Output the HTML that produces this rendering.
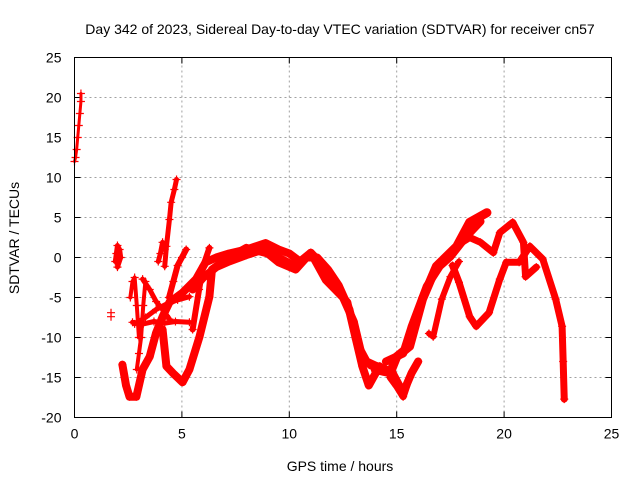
<!DOCTYPE html>
<html><head><meta charset="utf-8"><style>
body{margin:0;background:#fff;}
svg{display:block;font-family:"Liberation Sans",sans-serif;}
</style></head><body>
<svg id="chart" width="640" height="480">
<rect width="640" height="480" fill="#fff"/>
<text x="340" y="34" font-size="14" text-anchor="middle">Day 342 of 2023, Sidereal Day-to-day VTEC variation (SDTVAR) for receiver cn57</text>
<text x="340" y="471" font-size="14" text-anchor="middle">GPS time / hours</text>
<text x="19" y="238" font-size="14" text-anchor="middle" transform="rotate(-90 19 238)">SDTVAR / TECUs</text>
<g id="grid"></g><g id="ticks"></g><g id="marks"></g>
<rect x="74.5" y="57.5" width="537" height="360" fill="none" stroke="#000" stroke-width="1"/>
</svg>
<script>
const xTicks=[0,5,10,15,20,25];
const yTicks=[-20,-15,-10,-5,0,5,10,15,20,25];
const t1h=[0.0,0.05,0.1,0.15,0.2,0.25,0.3,0.3], t1v=[12,12.5,13.5,15,16.5,18,19.5,20.5];
const t2h=[1.7,1.7], t2v=[-7.4,-6.9];
const t3h=[1.9,1.95,2.0,2.1,2.15,2.0], t3v=[-0.5,0.5,1.5,1.0,0,-1.2];
const t4h=[2.23,2.4,2.56,2.88,3.17,3.5,3.8,4.1,4.42,5.03,5.66,6.1,6.6,7.2,8.0,8.9,9.5,10.0,10.5,11.0,11.4,11.7,12.2,12.7,13.1,13.4,13.7,14.2];
const t4v=[-13.4,-16,-17.4,-17.4,-14,-12.4,-9.4,-7.4,-5.6,-4.4,-2.7,-0.6,0,0.5,1.0,1.8,1.0,0.5,-0.5,0.6,-0.5,-2.4,-4,-5.6,-10.2,-13.6,-16,-13.6];
const t4bh=[5.5,6.0,6.6,7.2,8.0,8.8,9.5,10.2,10.8,11.3,11.8,12.3,12.8,13.2,13.6,14.0,14.5], t4bv=[-4,-2.5,-1.2,-0.5,0.3,1.0,0.0,-1.0,0,0,-1.5,-3.5,-6.5,-11,-13,-13.5,-14];
const t5h=[4.1,4.28,4.6,5.03,5.35,5.82,6.28,6.4,7.07,8.0,9.0,9.5,10.3,11.0,11.7,12.5,13.0,13.4,13.8,14.3,14.8,15.3,15.7,16.0];
const t5v=[-9,-13.6,-14.5,-15.6,-14,-9.9,-4.9,-1.5,-0.2,1.2,0.5,-0.6,-1.5,0.6,-2.8,-5,-8,-12.5,-13.5,-13.8,-14.4,-16.9,-14.4,-13];
const t6h=[14.0,14.7,15.0,15.6,16.2,16.85,17.8,18.4,19.2], t6v=[-14,-14.4,-12.4,-11.1,-5.2,-1.1,1.4,4.4,5.6];
const t6bh=[14.5,15.3,15.7,16.4,17.0,17.5,18.2,18.9], t6bv=[-13,-12,-8.6,-3.6,-1.1,0.1,2.5,4.5];
const t7h=[16.5,16.7,17.1,17.5,17.9], t7v=[-9.5,-9.9,-5.2,-2.4,-0.5];
const t8h=[17.8,18.4,18.9,19.5,19.8,20.4,20.9,21.0,21.5], t8v=[1.5,2.5,1.9,0.6,3.1,4.4,1.9,-2.4,-1.2];
const t9h=[17.6,17.9,18.4,18.7,19.3,19.8,20.1,20.7,21.2,21.8,22.4,22.7,22.75,22.8], t9v=[-1,-3.1,-7.4,-8.6,-6.9,-2.7,-0.6,-0.6,1.4,-0.2,-5.2,-8.6,-13,-17.7];
const t10h=[14.7,15.0,15.3,15.6], t10v=[-15,-16.1,-17.4,-15];
const t11h=[4.4,4.6,4.8,5.0,5.2], t11v=[-5,-3,-1,0,1];
const t12h=[5.5,5.8,6.0,6.28], t12v=[-9,-4,-1,1.2];
const t13h=[4.2,4.28,4.42,4.5,4.65,4.75], t13v=[-1.1,1.4,4.75,6.9,8.5,9.75];
const t14h=[3.9,4.0,4.1,4.2], t14v=[-0.5,0.5,1.9,1.0];
const t15h=[3.17,3.5,3.8,4.1,4.42], t15v=[-2.7,-4,-5.5,-6.5,-7.7];
const t16h=[2.7,3.2,3.7,4.2,4.7,5.35], t16v=[-8.1,-8.3,-8.0,-8.2,-8.0,-8.1];
const t17h=[2.8,3.3,3.8,4.3,4.8,5.35], t17v=[-8.3,-7.5,-6.5,-5.8,-5.3,-4.9];
const t18h=[2.6,2.7,2.8,2.9,3.0], t18v=[-5,-3,-2.5,-6,-10];
const t19h=[2.9,3.0,3.1,3.2,3.3], t19v=[-14,-12,-10,-6,-3];
const tracks=[[t1h,t1v,3],[t2h,t2v,0],[t3h,t3v,5],[t4h,t4v,8],[t4bh,t4bv,8],[t5h,t5v,8],[t6h,t6v,9],[t6bh,t6bv,8],[t7h,t7v,6],[t8h,t8v,7],[t9h,t9v,7],[t10h,t10v,7],[t11h,t11v,6],[t12h,t12v,6],[t13h,t13v,5],[t14h,t14v,5],[t15h,t15v,5],[t16h,t16v,5],[t17h,t17v,5],[t18h,t18v,4],[t19h,t19v,4]];
const X0=74.5,X1=611.5,Y0=417.5,Y1=57.5;
const xs=h=>X0+(h-0)/25*(X1-X0);
const ys=v=>Y0-(v+20)/45*(Y0-Y1);
const NS="http://www.w3.org/2000/svg";
const grid=document.getElementById('grid'),ticks=document.getElementById('ticks'),marks=document.getElementById('marks');
function mk(tag,attrs,parent){const e=document.createElementNS(NS,tag);for(const k in attrs)e.setAttribute(k,attrs[k]);parent.appendChild(e);return e;}
xTicks.forEach(t=>{const x=xs(t);
 if(t>0&&t<25){const g=mk('line',{x1:x,x2:x,y1:Y0,y2:Y1,stroke:'#a0a0a0','stroke-dasharray':'2,3'},grid);
 
 }
 const l=mk('text',{x:x,y:Y0+21,'font-size':14,'text-anchor':'middle'},ticks);l.textContent=t;
 
 
 mk('line',{x1:x,x2:x,y1:Y0,y2:Y0-6,stroke:'#000'},ticks);mk('line',{x1:x,x2:x,y1:Y1,y2:Y1+6,stroke:'#000'},ticks);});
yTicks.forEach(t=>{const y=ys(t);
 if(t>-20&&t<25){const g=mk('line',{x1:X0,x2:X1,y1:y,y2:y,stroke:'#a0a0a0','stroke-dasharray':'2,3'},grid);
 
 }
 const l=mk('text',{x:X0-13,y:y+5,'font-size':14,'text-anchor':'end'},ticks);l.textContent=t;
 
 
 mk('line',{x1:X0,x2:X0+6,y1:y,y2:y,stroke:'#000'},ticks);mk('line',{x1:X1,x2:X1-6,y1:y,y2:y,stroke:'#000'},ticks);});
tracks.forEach(([hs,vs,w],i)=>{
 if(w>0){const pts=hs.map((h,j)=>xs(h)+','+ys(vs[j])).join(' ');
 const p=mk('polyline',{points:pts,fill:'none',stroke:'#ff0000','stroke-width':w,'stroke-linejoin':'round','stroke-linecap':'round'},marks);
 
 }
 hs.forEach((h,j)=>{const x=xs(h),y=ys(vs[j]);
 const m=mk('path',{d:`M${x-4} ${y}H${x+4}M${x} ${y-4}V${y+4}`,stroke:'#ff0000','stroke-width':1.2},marks);
 
 });
});
</script>
</body></html>
